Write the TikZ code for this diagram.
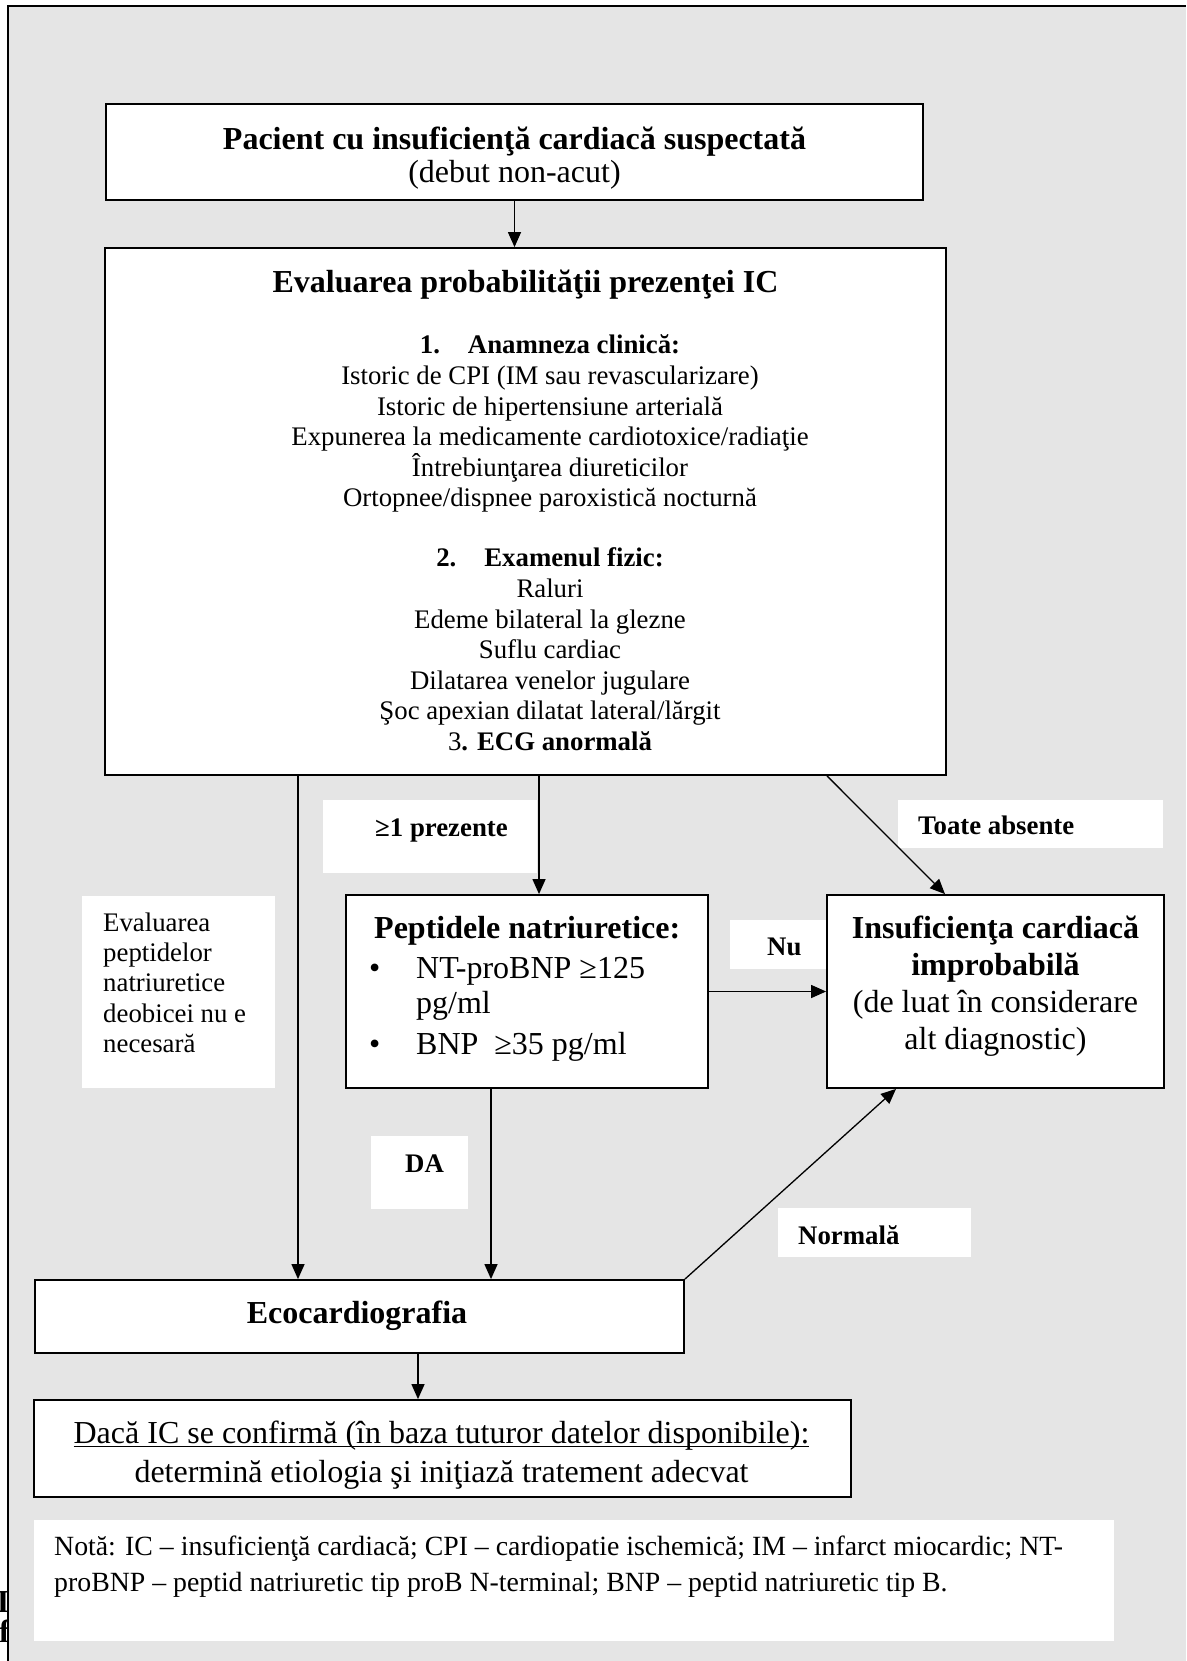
\documentclass[tikz,border=0pt]{standalone}
\usepackage{fontspec}
\setmainfont{Liberation Serif}
\usetikzlibrary{arrows.meta}
\definecolor{bggray}{RGB}{229,229,229}
\newcommand\fsn{\fontsize{26.8}{30.6}\selectfont}
\newcommand\fsm{\fontsize{32}{33}\selectfont}
\newcommand\ulx[1]{\leavevmode\setbox0=\hbox{#1}\rlap{\rule[-4pt]{\wd0}{1.5pt}}\box0}
\begin{document}
\begin{tikzpicture}[x=1pt,y=-1pt,
  box/.style={draw=black, line width=1.8pt, fill=white, inner sep=0pt},
  arr/.style={line width=1.3pt, -{Triangle[length=15pt,width=13pt]}},
  txt/.style={inner sep=0pt, font=\fsn},
  lbl/.style={inner sep=0pt, font=\fsn\bfseries, anchor=base west},
  lblbox/.style={fill=white}
]
\useasboundingbox (0,0) rectangle (1186,1661);
% stray clipped letters at the left edge
\node[inner sep=0pt, font=\fsm\bfseries, anchor=base] (strayI) at (3,1612) {I};
\node[inner sep=0pt, font=\fsm\bfseries, anchor=base west] (strayf) at (-1,1642) {f};
% background
\fill[bggray] (8,6) rectangle (1186,1661);
\draw[line width=1.5pt] (8,1661) -- (8,6);
\draw[line width=2.5pt] (7,6) -- (1186,6);

% boxes
\node[box, minimum width=817pt, minimum height=96pt] (top) at (514.5,152) {};
\node[box, minimum width=841pt, minimum height=527pt] (eval) at (525.5,511.5) {};
\node[box, minimum width=362pt, minimum height=193pt] (pep) at (527,991.5) {};
\node[box, minimum width=337pt, minimum height=193pt] (impr) at (995.5,991.5) {};
\node[box, minimum width=649pt, minimum height=73pt] (eco) at (359.5,1316.5) {};
\node[box, minimum width=817pt, minimum height=97pt] (final) at (442.5,1448.5) {};
\node[fill=white, inner sep=0pt, minimum width=1080pt, minimum height=121pt] (note) at (574,1580.5) {};

% white label boxes
\fill[lblbox] (323,800) rectangle (537,873);
\fill[lblbox] (898,800) rectangle (1163,848);
\fill[lblbox] (82,896) rectangle (275,1088);
\fill[lblbox] (730,920) rectangle (826,969);
\fill[lblbox] (371,1136) rectangle (468,1209);
\fill[lblbox] (778,1208) rectangle (971,1257);

% connectors
\coordinate (xa) at (298,0);
\coordinate (xb) at (539,0);
\coordinate (xc) at (827,0);
\coordinate (xd) at (945,0);
\coordinate (xe) at (491,0);
\coordinate (xf) at (896,0);
\coordinate (xg) at (418,0);
\draw[arr] (top.south) -- (top.south |- eval.north);
\draw[arr] (eval.south -| xb) -- (pep.north -| xb);
\draw[arr] (eval.south -| xa) -- (eco.north -| xa);
\draw[arr] (eval.south -| xc) -- (impr.north -| xd);
\draw[arr] (pep.east) -- (impr.west);
\draw[arr] (pep.south -| xe) -- (eco.north -| xe);
\draw[arr] (eco.north east) -- (impr.south -| xf);
\draw[arr] (eco.south -| xg) -- (final.north -| xg);

% texts (anchor base = baseline of the last line)
\node[txt, font=\fsm, align=center, anchor=base] (toptxt) at (514.5,183)
  {\textbf{Pacient cu insuficienţă cardiacă suspectată}\\(debut non-acut)};
\node[txt, font=\fsm\bfseries, anchor=base] (evaltitle) at (525.5,293)
  {Evaluarea probabilităţii prezenţei IC};
\node[txt, align=center, anchor=base] (evalbody) at (550,750.5)
  {\textbf{1.\hspace{28pt}Anamneza clinică:}\\
   Istoric de CPI (IM sau revascularizare)\\
   Istoric de hipertensiune arterială\\
   Expunerea la medicamente cardiotoxice/radiaţie\\
   Întrebiunţarea diureticilor\\
   Ortopnee/dispnee paroxistică nocturnă\\[29.4pt]
   \textbf{2.\hspace{28pt}Examenul fizic:}\\
   Raluri\\
   Edeme bilateral la glezne\\
   Suflu cardiac\\
   Dilatarea venelor jugulare\\
   Şoc apexian dilatat lateral/lărgit\\
   3\textbf{. ECG anormală}};
\node[txt, font=\fontsize{32}{35}\selectfont, align=left, anchor=base west] (peptxt) at (369,1054)
  {\hspace*{5pt}\textbf{Peptidele natriuretice:}\\[5pt]
   \makebox[47pt][l]{•}NT-proBNP ≥125\\
   \hspace*{47pt}pg/ml\\[6pt]
   \makebox[47pt][l]{•}BNP\ \ ≥35 pg/ml};
\node[txt, font=\fontsize{32}{36.7}\selectfont, align=center, anchor=base] (imprtxt) at (995.5,1049)
  {\textbf{Insuficienţa cardiacă}\\\textbf{improbabilă}\\(de luat în considerare\\alt diagnostic)};
\node[txt, font=\fontsize{26.8}{30.3}\selectfont, align=left, anchor=base west] (evpeptxt) at (103,1052.5)
  {Evaluarea\\peptidelor\\natriuretice\\deobicei nu e\\necesară};
\node[txt, font=\fsm\bfseries, anchor=base] (ecotxt) at (357,1323) {Ecocardiografia};
\node[txt, font=\fontsize{32}{39}\selectfont, align=center, anchor=base] (finaltxt) at (441.5,1482)
  {\ulx{Dacă IC se confirmă (în baza tuturor datelor disponibile):}\\
   determină etiologia şi iniţiază tratement adecvat};
\node[txt, font=\fontsize{27.8}{36}\selectfont, align=left, anchor=base west] (notetxt) at (54,1591.5)
  {Notă: IC – insuficienţă cardiacă; CPI – cardiopatie ischemică; IM – infarct miocardic; NT-\\
   proBNP – peptid natriuretic tip proB N-terminal; BNP – peptid natriuretic tip B.};

% connector labels
\node[lbl] (l1) at (375,836) {≥1 prezente};
\node[lbl] (l2) at (918,834) {Toate absente};
\node[lbl] (l3) at (767,955) {Nu};
\node[lbl] (l4) at (405,1172) {DA};
\node[lbl] (l5) at (798,1244) {Normală};
\end{tikzpicture}
\end{document}
